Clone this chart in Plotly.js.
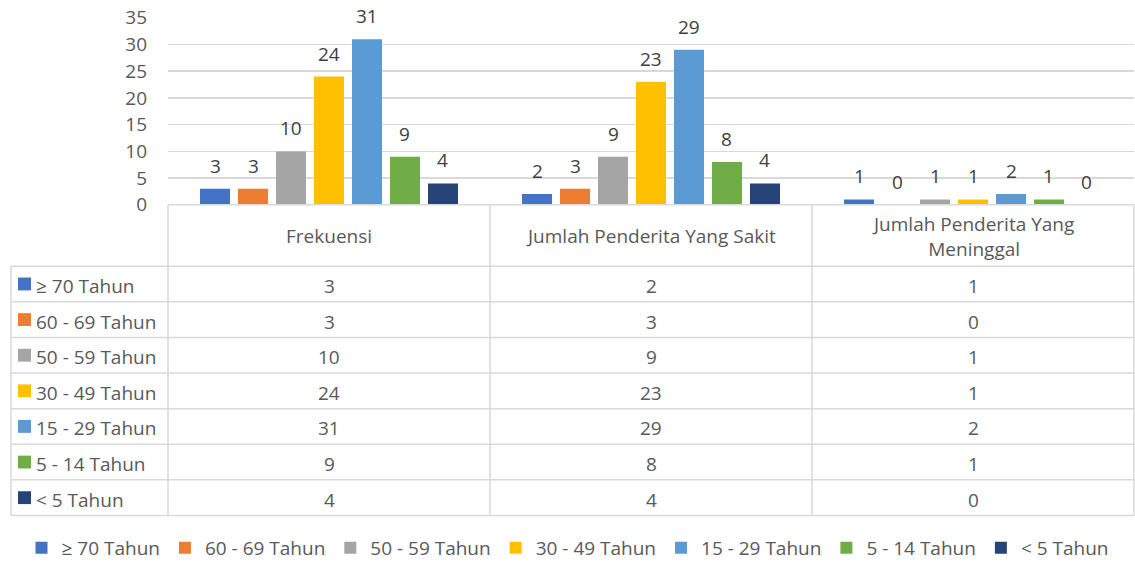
<!DOCTYPE html>
<html>
<head>
<meta charset="utf-8">
<script src="https://cdn.plot.ly/plotly-3.0.1.min.js"></script>
<style>html,body{margin:0;padding:0;background:#fff;}#chart{width:1135px;height:567px;}</style>
</head>
<body>
<div id="chart"></div>
<script>
// ---- data ----
const categories = ['Frekuensi', 'Jumlah Penderita Yang Sakit', 'Jumlah Penderita Yang<br>Meninggal'];
const seriesNames = ['≥ 70 Tahun', '60 - 69 Tahun', '50 - 59 Tahun', '30 - 49 Tahun', '15 - 29 Tahun', '5 - 14 Tahun', '< 5 Tahun'];
const v70plus = [3, 2, 1];
const v60_69 = [3, 3, 0];
const v50_59 = [10, 9, 1];
const v30_49 = [24, 23, 1];
const v15_29 = [31, 29, 2];
const v5_14 = [9, 8, 1];
const vUnder5 = [4, 4, 0];
const yTicks = [0, 5, 10, 15, 20, 25, 30, 35];

const seriesValues = [v70plus, v60_69, v50_59, v30_49, v15_29, v5_14, vUnder5];
const colors = ['#4472C4', '#ED7D31', '#A5A5A5', '#FFC000', '#5B9BD5', '#70AD47', '#264478'];

// ---- geometry (pixels) ----
const W = 1135, H = 567;
const L = 168, R = 1134, T = 18, B = 207;
const headerBottom = 269, rowH = 36, tableLeft = 11;
const colW = (R - L) / categories.length;
const bargap = 0.174, bargroupgap = 0.21;
const FONT = 'Open Sans, Liberation Sans, sans-serif';
const FS = 19;
const TXT = '#595959';
const LINE = '#D9D9D9';
const px = x => x / W;
const py = y => 1 - y / H;
const esc = s => s.replace(/</g, '&lt;').replace(/>/g, '&gt;').replace(/&lt;br&gt;/g, '<br>');

const xIdx = categories.map((c, i) => i);

const traces = seriesNames.map((name, j) => ({
  type: 'bar',
  name: esc(name),
  x: xIdx,
  y: seriesValues[j],
  marker: {color: colors[j]},
  hoverinfo: 'skip'
}));

const annotations = [];
const shapes = [];

// bar value labels
const nS = seriesNames.length;
const groupW = 1 - bargap;
seriesValues.forEach((vals, j) => {
  vals.forEach((v, i) => {
    const off = -groupW / 2 + (j + 0.5) * groupW / nS;
    annotations.push({
      xref: 'x', yref: 'y', x: i + off, y: v, yshift: 23,
      text: String(v), showarrow: false, yanchor: 'middle', xanchor: 'center',
      font: {family: FONT, size: FS, color: '#404040'}
    });
  });
});

// table lines
const line = (x0, y0, x1, y1) => shapes.push({
  type: 'line', xref: 'paper', yref: 'paper',
  x0: px(x0), y0: py(y0), x1: px(x1), y1: py(y1),
  line: {color: LINE, width: 1.5}, layer: 'above'
});
const tableBottom = headerBottom + rowH * nS;
line(L, B, R, B);
for (let r = 0; r <= nS; r++) {
  const y = headerBottom + r * rowH;
  line(tableLeft, y, R, y);
}
for (let c = 0; c <= categories.length; c++) {
  const x = L + c * colW;
  line(x, B, x, tableBottom);
}
line(tableLeft, headerBottom, tableLeft, tableBottom);

// header texts
categories.forEach((c, i) => {
  annotations.push({
    xref: 'paper', yref: 'paper', x: px(L + (i + 0.5) * colW), y: py((B + headerBottom) / 2 + 1),
    text: c, showarrow: false, xanchor: 'center', yanchor: 'middle',
    font: {family: FONT, size: FS, color: TXT}
  });
});

// rows
seriesNames.forEach((name, j) => {
  const cy = headerBottom + (j + 0.5) * rowH;
  shapes.push({
    type: 'rect', xref: 'paper', yref: 'paper',
    x0: px(18), x1: px(31), y0: py(cy - 6.5), y1: py(cy + 6.5),
    fillcolor: colors[j], line: {width: 0}
  });
  annotations.push({
    xref: 'paper', yref: 'paper', x: px(34), y: py(cy + 2),
    text: esc(name), showarrow: false, xanchor: 'left', yanchor: 'middle',
    font: {family: FONT, size: FS, color: TXT}
  });
  seriesValues[j].forEach((v, i) => {
    annotations.push({
      xref: 'paper', yref: 'paper', x: px(L + (i + 0.5) * colW), y: py(cy + 2),
      text: String(v), showarrow: false, xanchor: 'center', yanchor: 'middle',
      font: {family: FONT, size: FS, color: TXT}
    });
  });
});

const layout = {
  width: W, height: H,
  margin: {l: 0, r: 0, t: 0, b: 0},
  paper_bgcolor: '#fff', plot_bgcolor: '#fff',
  barmode: 'group', bargap: bargap, bargroupgap: bargroupgap,
  font: {family: FONT, size: FS, color: TXT},
  xaxis: {
    domain: [px(L), px(R)], range: [-0.5, categories.length - 0.5],
    showticklabels: false, showgrid: false, zeroline: false, showline: false, ticks: '', fixedrange: true
  },
  yaxis: {
    domain: [py(B), py(T)], range: [0, 35], tickvals: yTicks,
    showgrid: true, gridcolor: LINE, gridwidth: 1.5, zeroline: false, showline: false, ticks: '',
    ticklabelstandoff: 20,
    tickfont: {family: FONT, size: FS, color: TXT}
  },
  showlegend: true,
  legend: {
    orientation: 'h', x: 0.5, xanchor: 'center', y: py(554), yanchor: 'middle',
    font: {family: FONT, size: FS, color: TXT}, traceorder: 'normal'
  },
  shapes: shapes,
  annotations: annotations
};

Plotly.newPlot('chart', traces, layout, {displayModeBar: false, staticPlot: true});
</script>
</body>
</html>
